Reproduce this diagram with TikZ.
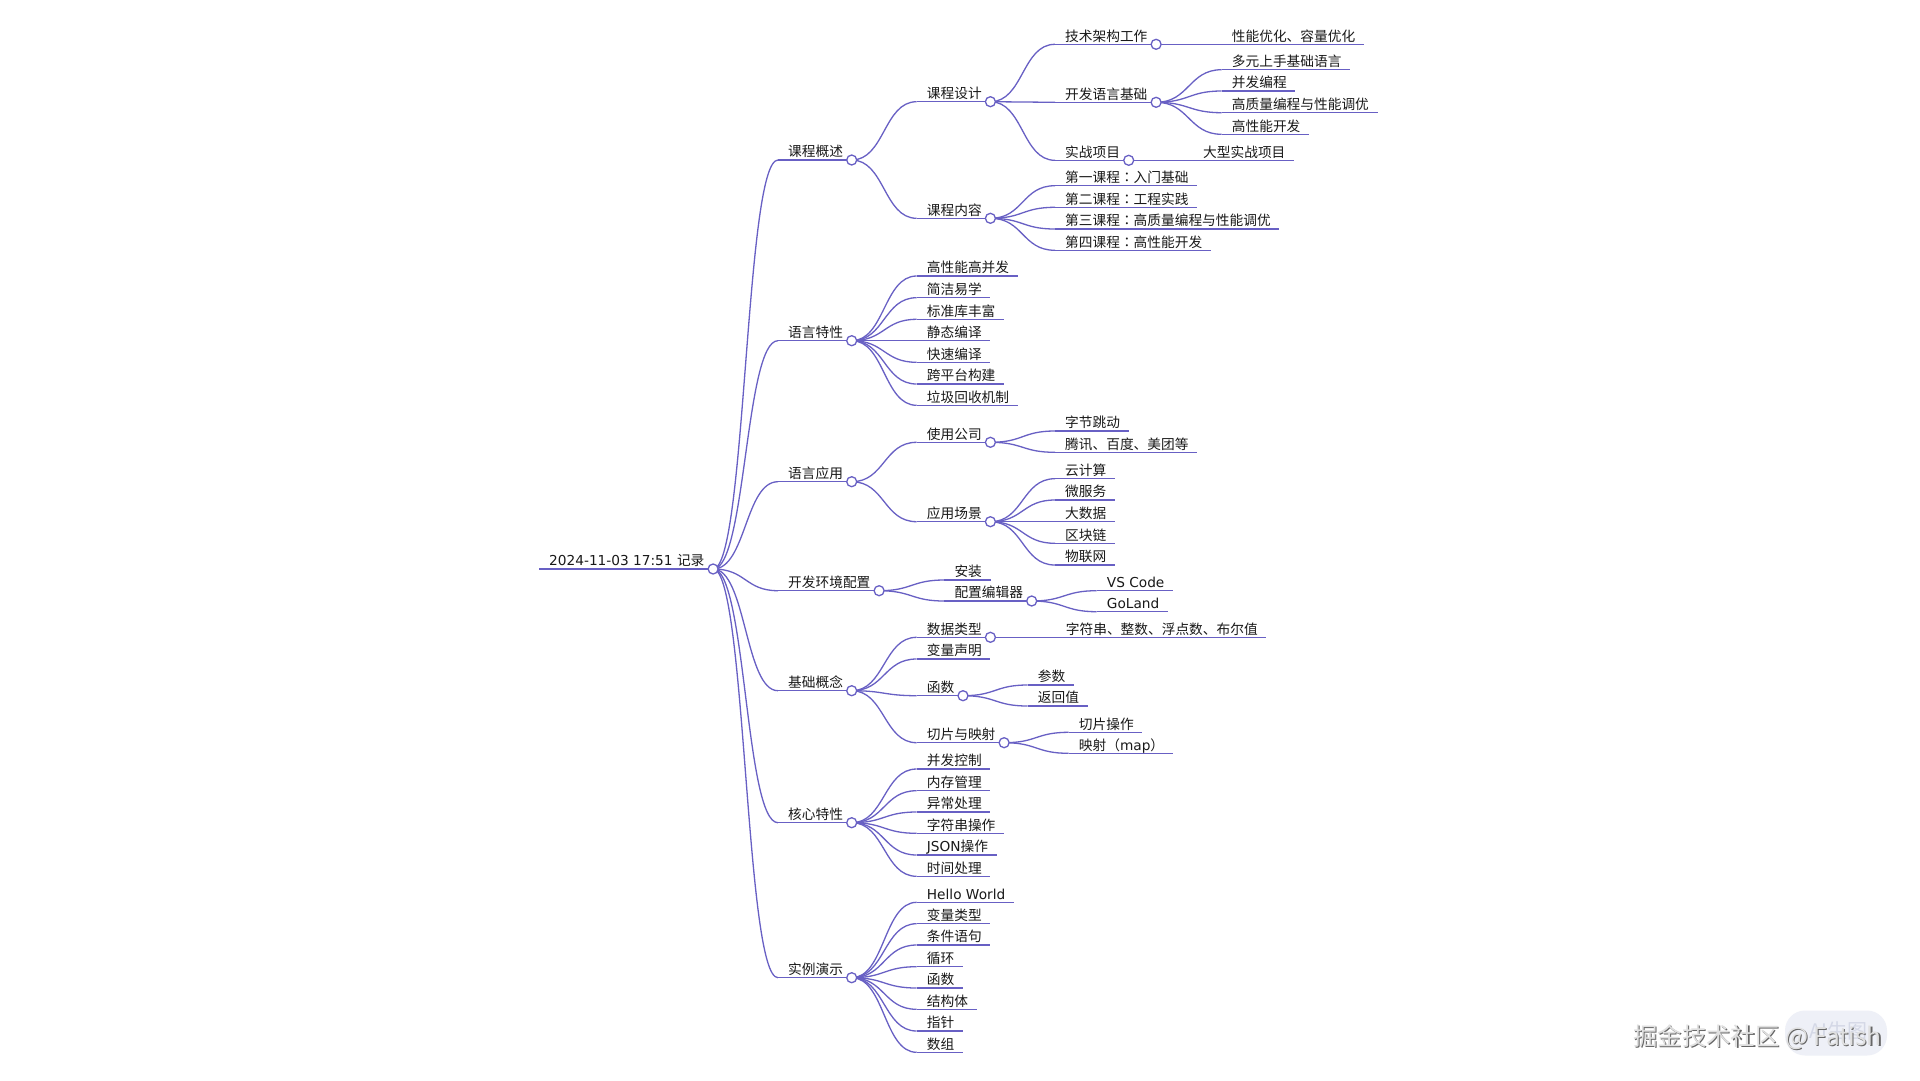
\documentclass[tikz,border=0pt]{standalone}
\usepackage{fontspec}
\setmainfont{DejaVu Sans}
\newfontfamily\cjk{Noto Sans CJK SC}
\newfontfamily\cjkjp{Noto Sans CJK JP}
\newfontfamily\lat{DejaVu Sans}
\newcommand\fcolon{{\cjkjp ：}}
\usetikzlibrary{calc}
\definecolor{mmline}{RGB}{104,96,196}
\definecolor{badge}{RGB}{238,240,247}
\definecolor{badgetext}{RGB}{212,216,230}
\tikzset{
  lbl/.style={anchor=base west, inner sep=0pt, font=\cjk\fontsize{13.7}{16}\selectfont, text=black!90},
  edge/.style={draw=mmline, line width=1.3pt},
  mmdot/.style={circle, draw=mmline, fill=white, line width=1.3pt, minimum size=10pt, inner sep=0pt},
}
\newcommand\mmn[4]{%
  \node[lbl] (#1) at (#2,#3-3.3) {#4};
  \coordinate (#1-s) at ($(#1.base west)+(-10,3.3)$);
  \coordinate (#1-e) at ($(#1.base east)+(8.5,3.3)$);
  \draw[edge] (#1-s) -- (#1-e);}
\newcommand\mml[2]{\draw[edge] (#1-e) .. controls +(33,0) and +(-33,0) .. (#2-s);}
\newcommand\mmc[1]{\node[mmdot] (#1-c) at (#1-e) {};}
\begin{document}
\begin{tikzpicture}[x=1pt,y=-1pt]
\useasboundingbox[fill=white] (0,0) rectangle (1920,1080);
% root and level 1
\mmn{r}{549}{569}{{\lat 2024-11-03 17:51 }记录}
\mmn{a}{788}{160}{课程概述}
\mmn{b}{788}{340.7}{语言特性}
\mmn{c}{788}{481.7}{语言应用}
\mmn{d}{788}{590.7}{开发环境配置}
\mmn{e}{788}{690.7}{基础概念}
\mmn{f}{788}{822.7}{核心特性}
\mmn{g}{788}{977.7}{实例演示}
% A
\mmn{a1}{926.7}{101.7}{课程设计}
\mmn{a2}{926.7}{218.3}{课程内容}
\mmn{a1a}{1065}{44.3}{技术架构工作}
\mmn{a1b}{1065}{102.3}{开发语言基础}
\mmn{a1c}{1065}{160.3}{实战项目}
\mmn{a1a1}{1231.7}{44.3}{性能优化、容量优化}
\mmn{a1b1}{1231.7}{69.7}{多元上手基础语言}
\mmn{a1b2}{1231.7}{91}{并发编程}
\mmn{a1b3}{1231.7}{112.7}{高质量编程与性能调优}
\mmn{a1b4}{1231.7}{134.3}{高性能开发}
\mmn{a1c1}{1203}{160.3}{大型实战项目}
\mmn{a2a}{1065}{185.7}{第一课程\fcolon 入门基础}
\mmn{a2b}{1065}{207.3}{第二课程\fcolon 工程实践}
\mmn{a2c}{1065}{229}{第三课程\fcolon 高质量编程与性能调优}
\mmn{a2d}{1065}{250.3}{第四课程\fcolon 高性能开发}
% B
\mmn{b1}{926.7}{276}{高性能高并发}
\mmn{b2}{926.7}{297.7}{简洁易学}
\mmn{b3}{926.7}{319.3}{标准库丰富}
\mmn{b4}{926.7}{340.7}{静态编译}
\mmn{b5}{926.7}{362.3}{快速编译}
\mmn{b6}{926.7}{384}{跨平台构建}
\mmn{b7}{926.7}{405.3}{垃圾回收机制}
% C
\mmn{c1}{926.7}{442.3}{使用公司}
\mmn{c2}{926.7}{521.7}{应用场景}
\mmn{c1a}{1065}{431}{字节跳动}
\mmn{c1b}{1065}{452.3}{腾讯、百度、美团等}
\mmn{c2a}{1065}{478.7}{云计算}
\mmn{c2b}{1065}{500}{微服务}
\mmn{c2c}{1065}{521.7}{大数据}
\mmn{c2d}{1065}{543.3}{区块链}
\mmn{c2e}{1065}{565}{物联网}
% D
\mmn{d1}{954.3}{580}{安装}
\mmn{d2}{954.3}{601}{配置编辑器}
\mmn{d2a}{1106.7}{590.7}{{\lat VS Code}}
\mmn{d2b}{1106.7}{611.7}{{\lat GoLand}}
% E
\mmn{e1}{926.7}{637.3}{数据类型}
\mmn{e2}{926.7}{659}{变量声明}
\mmn{e3}{926.7}{695.7}{函数}
\mmn{e4}{926.7}{742.7}{切片与映射}
\mmn{e1a}{1065.7}{637.3}{字符串、整数、浮点数、布尔值}
\mmn{e3a}{1037.7}{685}{参数}
\mmn{e3b}{1037.7}{706}{返回值}
\mmn{e4a}{1078.7}{732.3}{切片操作}
\mmn{e4b}{1078.7}{753.3}{映射（{\lat map}）}
% F
\mmn{f1}{926.7}{769}{并发控制}
\mmn{f2}{926.7}{790.7}{内存管理}
\mmn{f3}{926.7}{812}{异常处理}
\mmn{f4}{926.7}{833.3}{字符串操作}
\mmn{f5}{926.7}{855}{{\lat JSON}操作}
\mmn{f6}{926.7}{876.3}{时间处理}
% G
\mmn{g1}{926.7}{902.3}{{\lat Hello World}}
\mmn{g2}{926.7}{923.7}{变量类型}
\mmn{g3}{926.7}{945}{条件语句}
\mmn{g4}{926.7}{966.7}{循环}
\mmn{g5}{926.7}{988}{函数}
\mmn{g6}{926.7}{1009.3}{结构体}
\mmn{g7}{926.7}{1031}{指针}
\mmn{g8}{926.7}{1052.3}{数组}
% links
\foreach \k in {a,b,c,d,e,f,g} {\mml{r}{\k}}
\mml{a}{a1} \mml{a}{a2}
\mml{a1}{a1a} \mml{a1}{a1b} \mml{a1}{a1c}
\mml{a1a}{a1a1}
\foreach \k in {1,2,3,4} {\mml{a1b}{a1b\k}}
\mml{a1c}{a1c1}
\foreach \k in {a,b,c,d} {\mml{a2}{a2\k}}
\foreach \k in {1,...,7} {\mml{b}{b\k}}
\mml{c}{c1} \mml{c}{c2}
\mml{c1}{c1a} \mml{c1}{c1b}
\foreach \k in {a,b,c,d,e} {\mml{c2}{c2\k}}
\mml{d}{d1} \mml{d}{d2}
\mml{d2}{d2a} \mml{d2}{d2b}
\foreach \k in {1,2,3,4} {\mml{e}{e\k}}
\mml{e1}{e1a}
\mml{e3}{e3a} \mml{e3}{e3b}
\mml{e4}{e4a} \mml{e4}{e4b}
\foreach \k in {1,...,6} {\mml{f}{f\k}}
\foreach \k in {1,...,8} {\mml{g}{g\k}}
% circles
\foreach \k in {r,a,b,c,d,e,f,g,a1,a2,a1a,a1b,a1c,c1,c2,d2,e1,e3,e4} {\mmc{\k}}
% watermark
\node[draw=none, fill=badge, rounded corners=20pt, minimum width=102pt, minimum height=45pt] (badgebox) at (1836,1033) {};
\node[font=\cjk\fontsize{20}{24}\selectfont, text=badgetext] (badgelbl) at (1838,1031) {AI生图};
\node[anchor=west, inner sep=0pt, font=\cjk\fontsize{24.4}{28}\selectfont, text=black!60] (wmshadow) at (1634.2,1038.2) {掘金技术社区 @ Fatish};
\node[anchor=west, inner sep=0pt, font=\cjk\fontsize{24.4}{28}\selectfont, text=black!12] (wm) at (1633,1037) {掘金技术社区 @ Fatish};
\end{tikzpicture}
\end{document}
